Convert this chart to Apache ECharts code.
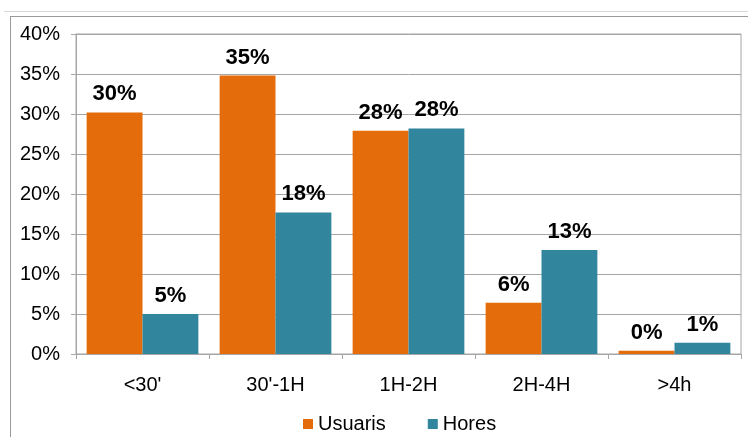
<!DOCTYPE html>
<html>
<head>
<meta charset="utf-8">
<script src="https://cdn.jsdelivr.net/npm/echarts@6/dist/echarts.min.js"></script>
<style>
  html, body { margin: 0; padding: 0; background: #fff; }
  #chart { width: 748px; height: 437px; }
</style>
</head>
<body>
<div id="chart"></div>
<script>
// Duration bands and the share of users / hours in each
var categories = ["<30'", "30'-1H", "1H-2H", "2H-4H", ">4h"];
var usuaris = [30.2, 34.8, 27.9, 6.4, 0.4];
var hores = [5.0, 17.7, 28.2, 13.0, 1.4];
var seriesNames = ['Usuaris', 'Hores'];
var yMin = 0, yMax = 40, yStep = 5;

var FONT = '"Liberation Sans", Arial, sans-serif';
var ORANGE = '#E46C0A';
var TEAL = '#31859C';
var LINE = '#a6a6a6';

function pct(p) { return Math.round(p.value) + '%'; }

var chart = echarts.init(document.getElementById('chart'), null, { renderer: 'canvas' });

chart.setOption({
  animation: false,
  backgroundColor: '#ffffff',
  textStyle: { fontFamily: FONT },
  graphic: [
    // outer frame lines
    { type: 'line', silent: true, shape: { x1: 4, y1: 11.5, x2: 748, y2: 11.5 },
      style: { stroke: '#d8d8d8', lineWidth: 1 } },
    { type: 'line', silent: true, shape: { x1: 10, y1: 16.5, x2: 748, y2: 16.5 },
      style: { stroke: '#9a9a9a', lineWidth: 1 } },
    { type: 'line', silent: true, shape: { x1: 10.5, y1: 16, x2: 10.5, y2: 437 },
      style: { stroke: '#9a9a9a', lineWidth: 1 } }
  ],
  grid: {
    left: 76, right: 7, top: 34, bottom: 83,
    show: true, borderColor: LINE, borderWidth: 1, backgroundColor: 'transparent'
  },
  legend: {
    data: seriesNames,
    bottom: -2,
    left: 298,
    itemWidth: 10,
    itemHeight: 10,
    itemGap: 42,
    icon: 'rect',
    textStyle: { fontFamily: FONT, fontSize: 20, color: '#000' }
  },
  xAxis: {
    type: 'category',
    data: categories,
    axisLine: { lineStyle: { color: LINE, width: 1 } },
    axisTick: { show: true, length: 5, alignWithLabel: false, lineStyle: { color: LINE } },
    axisLabel: { fontFamily: FONT, fontSize: 20, color: '#000', margin: 21 }
  },
  yAxis: {
    type: 'value',
    min: yMin, max: yMax, interval: yStep,
    axisLine: { show: true, lineStyle: { color: LINE, width: 1 } },
    axisTick: { show: true, length: 5, lineStyle: { color: LINE } },
    splitLine: { lineStyle: { color: LINE, width: 1 } },
    axisLabel: { fontFamily: FONT, fontSize: 20, color: '#000', margin: 16, formatter: '{value}%' }
  },
  series: [
    {
      name: seriesNames[0], type: 'bar', data: usuaris,
      barGap: '0%', barCategoryGap: '16%',
      itemStyle: { color: ORANGE },
      label: { show: true, position: 'top', distance: 7, formatter: pct,
               fontFamily: FONT, fontSize: 22, fontWeight: 'bold', color: '#000' }
    },
    {
      name: seriesNames[1], type: 'bar', data: hores,
      barGap: '0%', barCategoryGap: '16%',
      itemStyle: { color: TEAL },
      label: { show: true, position: 'top', distance: 7, formatter: pct,
               fontFamily: FONT, fontSize: 22, fontWeight: 'bold', color: '#000' }
    }
  ]
});
</script>
</body>
</html>
